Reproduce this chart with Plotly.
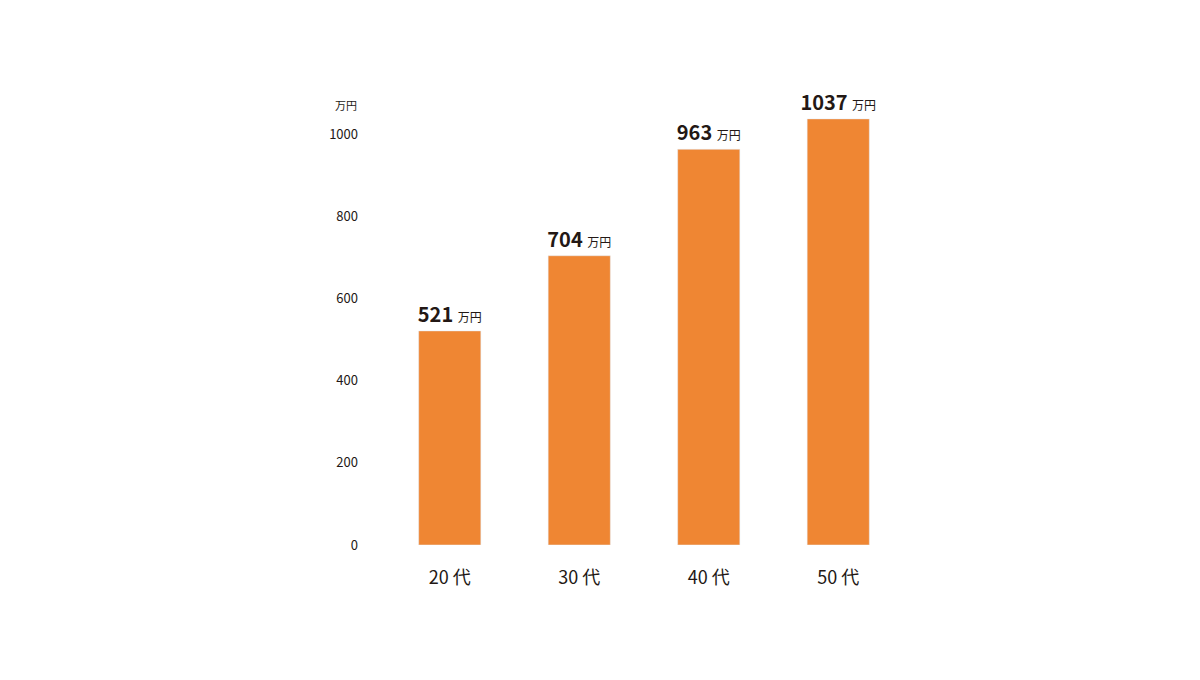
import plotly.graph_objects as go

categories = ["20 代", "30 代", "40 代", "50 代"]
values = [521, 704, 963, 1037]
ytick_vals = [0, 200, 400, 600, 800, 1000]
unit = "万円"

font = "Noto Sans CJK JP, Noto Sans, sans-serif"
labels = [f"<b>{v}</b> <span style='font-size:12px'>{unit}</span>" for v in values]

fig = go.Figure(go.Bar(
    x=categories, y=values, marker_color="#EF8633", width=0.48,
    text=labels, textposition="outside", cliponaxis=False, constraintext="none",
    textfont=dict(size=20, color="#231815", family=font),
))
fig.update_layout(
    width=1200, height=680, plot_bgcolor="white", paper_bgcolor="white",
    margin=dict(l=377, r=305, t=85, b=143), showlegend=False,
    font=dict(family=font, color="#231815"),
    xaxis=dict(range=[-0.5, 3.5], showgrid=False, showline=False, ticks="",
               tickfont=dict(size=18), ticklabelstandoff=20),
    yaxis=dict(range=[0, 1100], tickvals=ytick_vals, showgrid=False, zeroline=False,
               showline=False, tickfont=dict(size=13), ticklabelstandoff=26),
    annotations=[dict(text=unit, xref="paper", yref="y", x=-0.0, y=1070,
                      xshift=-26, xanchor="right", showarrow=False,
                      font=dict(size=11, family=font, color="#231815"))],
)
fig.write_html("out.html")
